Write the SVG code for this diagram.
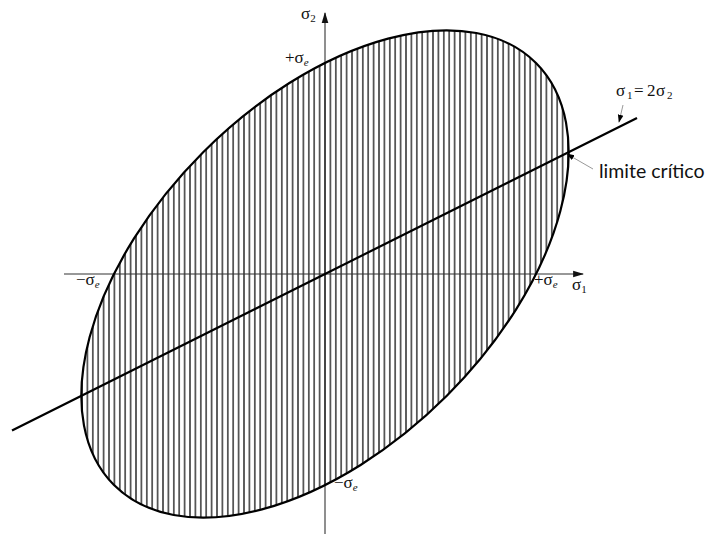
<svg xmlns="http://www.w3.org/2000/svg" width="711" height="536" viewBox="0 0 711 536">
<style>
.sym{font-family:"Liberation Serif","Times New Roman",serif;font-size:17px;fill:#111}
.sub{font-size:11px}
.it{font-style:italic}
.lbl{font-family:Lato,"Liberation Sans",sans-serif;font-size:19.5px;fill:#111}
.axis{stroke:#333;stroke-width:1.1;fill:none}
.bold{stroke:#000;stroke-width:2.2;fill:none}
.lead{stroke:#999;stroke-width:1;fill:none}
</style>
<defs>
<marker id="ah" viewBox="0 0 10 10" refX="9" refY="5" markerWidth="8" markerHeight="8" orient="auto" markerUnits="userSpaceOnUse">
<path d="M0,1.5 L10,5 L0,8.5 z" fill="#000"/>
</marker>
<marker id="ax" viewBox="0 0 10 10" refX="9" refY="5" markerWidth="11" markerHeight="11" orient="auto" markerUnits="userSpaceOnUse">
<path d="M0,2 L10,5 L0,8 z" fill="#111"/>
</marker>
<pattern id="hatch" patternUnits="userSpaceOnUse" x="322.3" y="0" width="5.4" height="10">
<line x1="2.7" y1="0" x2="2.7" y2="10" stroke="#000" stroke-width="1.2"/>
</pattern>
<clipPath id="ec">
<ellipse cx="325" cy="274" rx="298.4" ry="172.3" transform="rotate(-45 325 274)"/>
</clipPath>
</defs>
<g id="hatching">
<rect x="0" y="0" width="711" height="536" fill="url(#hatch)" clip-path="url(#ec)"/>
</g>
<g id="axes">
<line class="axis" x1="64" y1="274" x2="583" y2="274" marker-end="url(#ax)"/>
<line class="axis" x1="325" y1="534" x2="325" y2="13" marker-end="url(#ax)"/>
</g>
<g id="ellipse">
<ellipse class="bold" cx="325" cy="274" rx="298.4" ry="172.3" transform="rotate(-45 325 274)"/>
</g>
<g id="connectors">
<line class="bold" x1="12" y1="430.5" x2="637" y2="118"/>
<line class="lead" x1="623" y1="105" x2="619" y2="122" marker-end="url(#ah)"/>
<line class="lead" x1="593" y1="169" x2="567" y2="154" marker-end="url(#ah)"/>
</g>
<g id="labels">
<text class="sym" x="301" y="19">σ<tspan class="sub" dy="3">2</tspan></text>
<text class="sym" x="285" y="63">+σ<tspan class="sub it" dy="3">e</tspan></text>
<text class="sym" x="76" y="285">−σ<tspan class="sub it" dy="3">e</tspan></text>
<text class="sym" x="534" y="285">+σ<tspan class="sub it" dy="3">e</tspan></text>
<text class="sym" x="572" y="290">σ<tspan class="sub" dy="3">1</tspan></text>
<text class="sym" x="334" y="488">−σ<tspan class="sub it" dy="3">e</tspan></text>
<text class="sym" x="616" y="96">σ<tspan class="sub" x="627" dy="3">1</tspan><tspan x="634" dy="-3">=</tspan><tspan x="647">2</tspan><tspan x="656">σ</tspan><tspan class="sub" x="667" dy="3">2</tspan></text>
<text class="lbl" x="599" y="178">limite crítico</text>
</g>
</svg>
